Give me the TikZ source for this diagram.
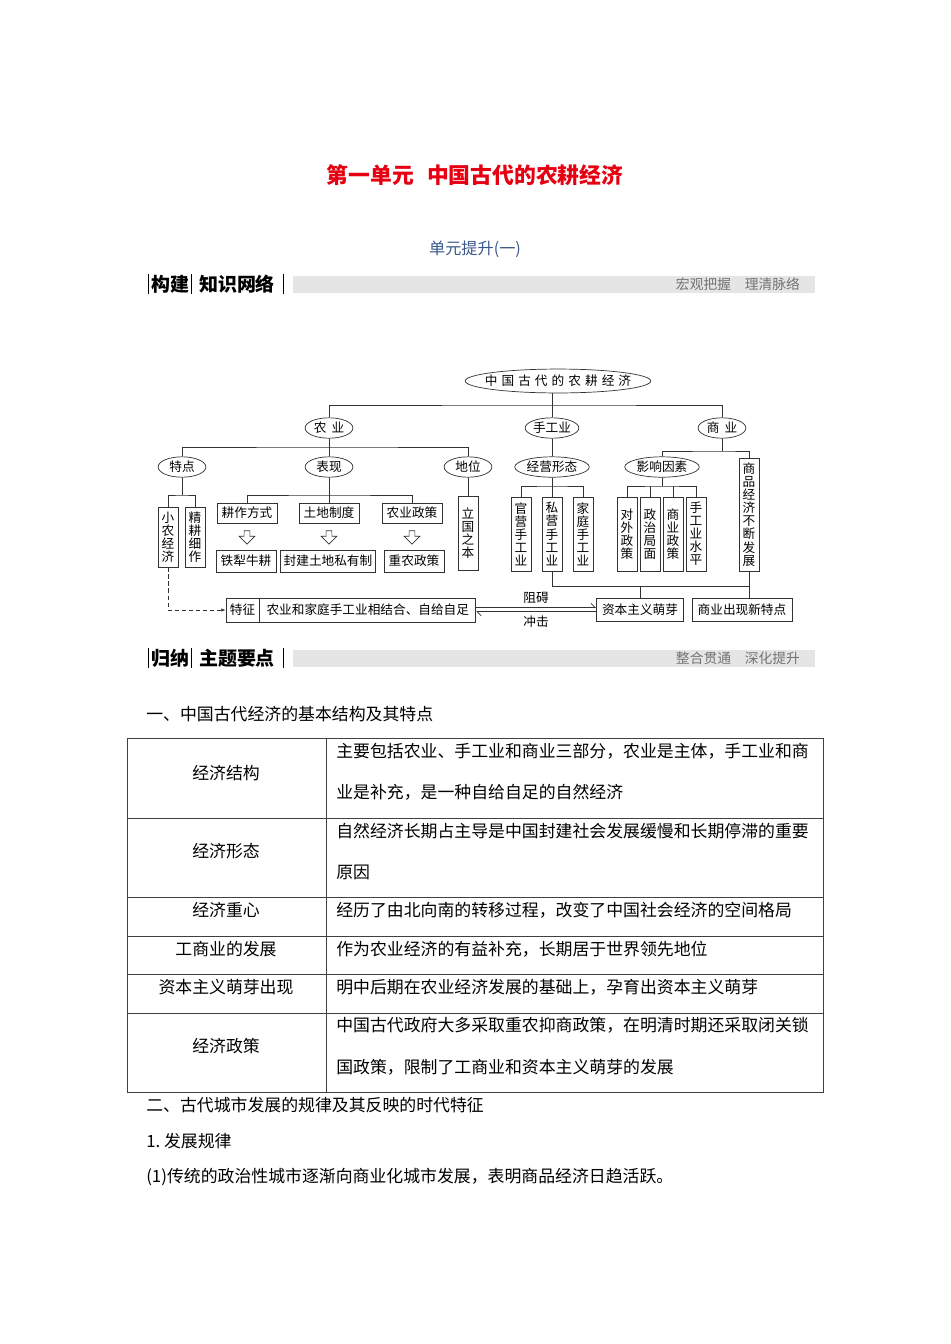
\documentclass[tikz,border=0pt]{standalone}
\usepackage{fontspec}
\setmainfont{Noto Sans CJK SC}
\usetikzlibrary{shapes.geometric,shapes.arrows,arrows.meta,positioning}
\definecolor{titlered}{RGB}{230,0,18}
\definecolor{subblue}{RGB}{58,88,140}
\definecolor{bandgray}{RGB}{229,229,229}

\begin{document}
\begin{tikzpicture}[x=0.025cm,y=-0.025cm,
  every node/.style={inner sep=0pt},
  ln/.style={draw=black!80,line width=0.5pt},
  dg/.style={font=\fontsize{9}{9.3}\selectfont},
  bd/.style={font=\fontsize{12}{14}\selectfont},
  hd/.style={font=\fontsize{13.5}{15}\selectfont\bfseries},
  hg/.style={font=\fontsize{9.8}{11}\selectfont,text=black!55},
  el/.style={dg,ln,ellipse,inner sep=0pt,minimum width=34pt,minimum height=14.5pt},
  wel/.style={el,minimum width=53pt},
  bx/.style={dg,ln,inner xsep=3.3pt,minimum height=14.2pt},
  lbx/.style={bx,inner xsep=4pt,minimum height=16.5pt},
  vb/.style={dg,ln,align=center,minimum width=14.2pt,minimum height=52.6pt},
  harrow/.style={ln,single arrow,rotate=-90,minimum height=9.5pt,inner sep=1.8pt,single arrow head extend=3.5pt},
  tline/.style={draw=black!75,line width=0.6pt}]
\fill[white] (0,0) rectangle (950,1344);
\useasboundingbox (0,0) rectangle (950,1344);

\node[font=\fontsize{15.5}{18}\selectfont\bfseries,text=titlered] (title) at (475,175) {第一单元\hspace{.6em}中国古代的农耕经济};
\node[font=\fontsize{11.5}{13}\selectfont,text=subblue] (sub) at (475,249) {单元提升(一)};

\fill[bandgray] (293,276) rectangle (815,293);
\draw[line width=0.6pt] (148,274) -- (148,294) (191,274) -- (191,294) (283,274) -- (283,294);
\node[hd] (hdA1) at (170,284) {构建};
\node[hd] (hdA2) at (237,284) {知识网络};
\node[hg] (hgA) at (738,284) {宏观把握\hspace{1em}理清脉络};

\node[dg,ln,ellipse,inner xsep=-6pt,inner ysep=0pt,minimum width=132pt,minimum height=17pt] (root) at (558,381) {\spaceskip=.32em\relax 中 国 古 代 的 农 耕 经 济};
\node[el] (nongye) at (329,428) {农\hspace{.4em}业};
\node[el] (shougong) at (552,428) {手工业};
\node[el] (shangye) at (722,428) {商\hspace{.4em}业};
\node[el] (tedian) at (182,467) {特点};
\node[el] (biaoxian) at (329,467) {表现};
\node[el] (diwei) at (468,467) {地位};
\node[wel] (jingying) at (552,467) {经营形态};
\node[wel] (yingxiang) at (662,467) {影响因素};

\node[vb,minimum height=42.7pt] (xiaonong) at (168,537) {小\\农\\经\\济};
\node[vb,minimum height=42.7pt] (jinggeng) at (195,537) {精\\耕\\细\\作};
\node[bx] (gengzuo) at (247,513) {耕作方式};
\node[bx] (tudi) at (329,513) {土地制度};
\node[bx] (nongzheng) at (412,513) {农业政策};
\node[harrow] (ar1) at (247,536) {};
\node[harrow] (ar2) at (329,536) {};
\node[harrow] (ar3) at (412,536) {};
\node[bx,minimum height=15.6pt] (tiexi) at (246,561) {铁犁牛耕};
\node[bx,minimum height=15.6pt,inner xsep=2.5pt] (fengjian) at (328,561) {封建土地私有制};
\node[bx,minimum height=15.6pt] (zhongnong) at (414,561) {重农政策};
\node[vb] (liguo) at (468,533.5) {立\\国\\之\\本};

\node[vb] (guanying) at (521,534) {官\\营\\手\\工\\业};
\node[vb] (siying) at (552,534) {私\\营\\手\\工\\业};
\node[vb] (jiating) at (583,534) {家\\庭\\手\\工\\业};
\node[vb] (duiwai) at (627,534) {对\\外\\政\\策};
\node[vb] (zhengzhi) at (650,534) {政\\治\\局\\面};
\node[vb] (shangzheng) at (673,534) {商\\业\\政\\策};
\node[vb] (shougongsp) at (696,534) {手\\工\\业\\水\\平};
\node[vb,minimum height=80.4pt] (shangpin) at (749,514.5) {商\\品\\经\\济\\不\\断\\发\\展};

\node[lbx,minimum height=17pt,inner xsep=2.8pt] (tz) at (242.5,610) {特征};
\node[lbx,minimum height=17pt,inner xsep=4.8pt,right=0pt of tz] (tzc) {农业和家庭手工业相结合、自给自足};
\node[lbx] (ziben) at (640,610) {资本主义萌芽};
\node[lbx] (xintedian) at (742,610) {商业出现新特点};

\coordinate (h1) at (552,405);
\coordinate (h2) at (329,447);
\coordinate (h3) at (722,451);
\coordinate (h4) at (182,495);
\coordinate (h5) at (329,495);
\coordinate (h6) at (552,486);
\coordinate (h7) at (662,486);
\coordinate (h8) at (640,586);
\draw[ln] (root.south -| shougong) -- (shougong);
\draw[ln] (nongye) |- (h1) -| (shangye);
\draw[ln] (nongye) -- (biaoxian);
\draw[ln] (tedian) |- (h2) -| (diwei);
\draw[ln] (shougong) -- (jingying);
\draw[ln] (shangye) -- (h3);
\draw[ln] (yingxiang) |- (h3) -| (shangpin);
\draw[ln] (tedian) -- (h4);
\draw[ln] (xiaonong) |- (h4) -| (jinggeng);
\draw[ln] (biaoxian) -- (tudi);
\draw[ln] (gengzuo) |- (h5) -| (nongzheng);
\draw[ln] (diwei) -- (liguo);
\draw[ln] (jingying) -- (siying);
\draw[ln] (guanying) |- (h6) -| (jiating);
\draw[ln] (yingxiang) -- (h7);
\draw[ln] (duiwai) |- (h7) -| (shougongsp);
\draw[ln] (zhengzhi) -- (zhengzhi |- h7);
\draw[ln] (shangzheng) -- (shangzheng |- h7);
\draw[ln] (siying) |- (h8) -| (shangpin);
\draw[ln] (h8) -- (ziben);
\draw[ln] (shangpin.south) -- (shangpin.south |- xintedian.north);
\draw[ln,densely dashed,-{Latex[length=3pt,width=2.5pt]}] (xiaonong) |- (tz);
\draw[ln,-{Straight Barb[left,length=3pt,width=6pt]}] ([yshift=1.8pt]tzc.east) -- node[dg,above=2.8pt] (zuai) {阻碍} ([yshift=1.8pt]ziben.west);
\draw[ln,-{Straight Barb[left,length=3pt,width=6pt]}] ([yshift=-1.2pt]ziben.west) -- node[dg,below=3pt] (chongji) {冲击} ([yshift=-1.2pt]tzc.east);

\fill[bandgray] (293,650) rectangle (815,667);
\draw[line width=0.6pt] (148,648) -- (148,668) (191,648) -- (191,668) (283,648) -- (283,668);
\node[hd] (hdB1) at (170,658) {归纳};
\node[hd] (hdB2) at (237,658) {主题要点};
\node[hg] (hgB) at (738,658) {整合贯通\hspace{1em}深化提升};

\node[bd,anchor=west] (sec1) at (146,714) {一、中国古代经济的基本结构及其特点};
\draw[tline] (127,738) rectangle (823,1092);
\draw[tline] (326,738) -- (326,1092);
\draw[tline] (127,818) -- (823,818) (127,897) -- (823,897) (127,936) -- (823,936) (127,974) -- (823,974) (127,1013) -- (823,1013);
\node[bd] (l1) at (226,773) {经济结构};
\node[bd] (l2) at (226,851) {经济形态};
\node[bd] (l3) at (226,910) {经济重心};
\node[bd] (l4) at (226,949) {工商业的发展};
\node[bd] (l5) at (226,987) {资本主义萌芽出现};
\node[bd] (l6) at (226,1046) {经济政策};
\node[bd,anchor=west] (r1a) at (336,751) {主要包括农业、手工业和商业三部分，农业是主体，手工业和商};
\node[bd,anchor=west] (r1b) at (336,792) {业是补充，是一种自给自足的自然经济};
\node[bd,anchor=west] (r2a) at (336,831) {自然经济长期占主导是中国封建社会发展缓慢和长期停滞的重要};
\node[bd,anchor=west] (r2b) at (336,872) {原因};
\node[bd,anchor=west] (r3) at (336,910) {经历了由北向南的转移过程，改变了中国社会经济的空间格局};
\node[bd,anchor=west] (r4) at (336,949) {作为农业经济的有益补充，长期居于世界领先地位};
\node[bd,anchor=west] (r5) at (336,987) {明中后期在农业经济发展的基础上，孕育出资本主义萌芽};
\node[bd,anchor=west] (r6a) at (336,1025) {中国古代政府大多采取重农抑商政策，在明清时期还采取闭关锁};
\node[bd,anchor=west] (r6b) at (336,1067) {国政策，限制了工商业和资本主义萌芽的发展};

\node[bd,anchor=west] (sec2) at (146,1105) {二、古代城市发展的规律及其反映的时代特征};
\node[bd,anchor=west] (sec2a) at (146,1141) {1.~发展规律};
\node[bd,anchor=west] (sec2b) at (146,1177) {(1)传统的政治性城市逐渐向商业化城市发展，表明商品经济日趋活跃。};
\end{tikzpicture}
\end{document}
